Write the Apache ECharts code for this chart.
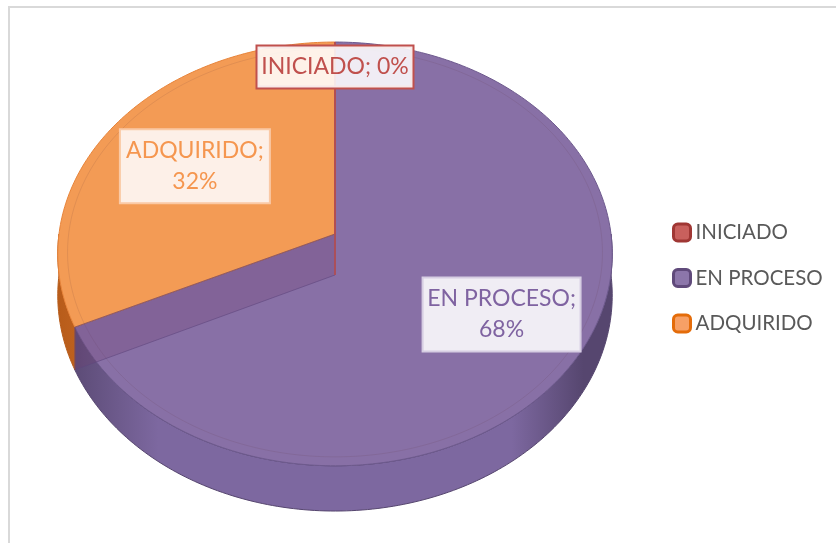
<!DOCTYPE html>
<html>
<head>
<meta charset="utf-8">
<title>Estado</title>
<script src="https://cdn.jsdelivr.net/npm/echarts@6/dist/echarts.min.js"></script>
<style>
    html, body { margin: 0; padding: 0; background: #fff; }
    #estado-pie { width: 836px; height: 543px; }
</style>
</head>
<body>
<div id="estado-pie"></div>
<script>
// data of the chart
var categories = ['INICIADO', 'EN PROCESO', 'ADQUIRIDO'];
var values = [0, 68, 32];

// colours (excel 2007 palette)
var topColors = ['#C0504D', '#8870A6', '#F39B55'];
var edgeColors = ['#B8403D', '#6E5A8E', '#E8843A'];
var sideDark = ['#7E2C2A', '#56466F', '#B85C1A'];
var sideLight = ['#A8433F', '#7D68A0', '#D9782F'];
var labelColors = ['#C0504D', '#7F63A1', '#F5964F'];
var labelBg = ['rgba(255,255,255,0.87)', '#F0EDF4', '#FDF0E8'];
var labelBorder = ['#C0504D', '#D6CDE2', '#FAC9A5'];
var legendFill = ['#C9605D', '#8C76AA', '#F7A066'];
var legendBorder = ['#A03734', '#604A7B', '#E46C0A'];

// label layout: distance from the apex (fraction of radius), box width, wrap
var labelDist = [0.86, 0.69, 0.62];
var labelWidth = [159, 160, 152];
var labelWrap = [false, true, true];

// pie geometry (fake 3d with a little perspective)
var CX = 335, CY = 234, RX = 276, RY = 210, P = 0.094, DEPTH = 41;

var total = values.reduce(function (a, b) { return a + b; }, 0);
var starts = [];
var acc = 0;
values.forEach(function (v) {
    starts.push(acc / total * 360);
    acc += v;
});

function project(angle, r, h) {
    var t = angle * Math.PI / 180;
    var u = Math.sin(t) * r;
    var v = -Math.cos(t) * r;
    var s = 1 / (1 - P * v);
    return [CX + RX * u * s, CY + (RY * v + DEPTH * h) * s];
}

function rim(a0, a1, r, h) {
    var pts = [];
    var n = Math.max(2, Math.ceil(Math.abs(a1 - a0)));
    for (var k = 0; k <= n; k++) {
        pts.push(project(a0 + (a1 - a0) * k / n, r, h));
    }
    return pts;
}

function sliceAngles(idx, api) {
    var a0 = starts[idx];
    var a1 = a0 + api.value(0) / total * 360;
    return [a0, a1];
}

var chart = echarts.init(document.getElementById('estado-pie'));

var option = {
    animation: false,
    backgroundColor: '#fff',
    graphic: [{
        type: 'rect',
        shape: { x: 9, y: 7, width: 900, height: 600 },
        style: { fill: 'none', stroke: '#D9D9D9', lineWidth: 2 },
        silent: true
    }],
    legend: {
        orient: 'vertical',
        left: 672,
        top: 222,
        padding: 0,
        itemWidth: 17,
        itemHeight: 17,
        itemGap: 24.5,
        icon: 'roundRect',
        selectedMode: false,
        textStyle: { fontFamily: 'Lato', fontSize: 20.5, color: '#595959', lineHeight: 18 },
        data: categories.map(function (c, i) {
            return {
                name: c,
                itemStyle: { color: legendFill[i], borderColor: legendBorder[i], borderWidth: 3 }
            };
        })
    },
    series: [
        // hidden pie only to feed the legend
        {
            type: 'pie',
            radius: [0, 0],
            center: [CX, CY],
            silent: true,
            label: { show: false },
            labelLine: { show: false },
            data: categories.map(function (c, i) {
                return { name: c, value: values[i], itemStyle: { color: topColors[i] } };
            })
        },
        // outer side walls (front half only)
        {
            type: 'custom',
            coordinateSystem: 'none',
            silent: true,
            z: 1,
            data: values,
            renderItem: function (params, api) {
                var a = sliceAngles(params.dataIndex, api);
                var from = Math.max(a[0], 90), to = Math.min(a[1], 270);
                if (to <= from) return null;
                var i = params.dataIndex;
                var pts = rim(from, to, 1, 0).concat(rim(to, from, 1, 1));
                return {
                    type: 'polygon',
                    shape: { points: pts },
                    style: {
                        fill: {
                            type: 'linear', x: CX - RX, y: 0, x2: CX + RX, y2: 0, global: true,
                            colorStops: [
                                { offset: 0, color: sideDark[i] },
                                { offset: 0.18, color: sideLight[i] },
                                { offset: 0.5, color: sideLight[i] },
                                { offset: 0.82, color: sideLight[i] },
                                { offset: 0.95, color: sideDark[i] },
                                { offset: 1, color: sideDark[i] }
                            ]
                        },
                        stroke: sideDark[i],
                        lineWidth: 1
                    }
                };
            }
        },
        // top faces
        {
            type: 'custom',
            coordinateSystem: 'none',
            silent: true,
            z: 2,
            data: values,
            renderItem: function (params, api) {
                var i = params.dataIndex;
                var a = sliceAngles(i, api);
                var apex = project(0, 0, 0);
                var pts = [apex].concat(rim(a[0], a[1], 1, 0));
                var children = [{
                    type: 'polygon',
                    z2: api.value(0) === 0 ? 10 : 0,
                    shape: { points: pts },
                    style: { fill: topColors[i], stroke: edgeColors[i], lineWidth: api.value(0) === 0 ? 1.5 : 1 }
                }];
                if (a[1] > a[0]) {
                    // soft bevel ring near the rim
                    children.push({
                        type: 'polyline',
                        shape: { points: rim(a[0], a[1], 0.965, 0) },
                        style: { fill: null, stroke: 'rgba(90,50,60,0.12)', lineWidth: 1 }
                    });
                }
                return { type: 'group', children: children };
            }
        },
        // radial walls seen through the top (transparent look)
        {
            type: 'custom',
            coordinateSystem: 'none',
            silent: true,
            z: 3,
            data: values,
            renderItem: function (params, api) {
                var i = params.dataIndex;
                var a0 = sliceAngles(i, api)[0];
                var pts = [project(0, 0, 0), project(a0, 1, 0), project(a0, 1, 1), project(0, 0, 1)];
                return {
                    type: 'polygon',
                    z2: api.value(0) === 0 ? 10 : 0,
                    shape: { points: pts },
                    style: {
                        fill: 'rgba(110,60,110,0.25)',
                        stroke: api.value(0) === 0 ? '#C0504D' : 'rgba(95,70,125,0.6)',
                        lineWidth: 1
                    }
                };
            }
        },
        // data labels
        {
            type: 'custom',
            coordinateSystem: 'none',
            silent: true,
            z: 4,
            data: values,
            renderItem: function (params, api) {
                var i = params.dataIndex;
                var a = sliceAngles(i, api);
                var pos = project((a[0] + a[1]) / 2, labelDist[i], 0);
                var pct = Math.round(api.value(0) / total * 100) + '%';
                var txt = categories[i] + ';' + (labelWrap[i] ? '\n' : ' ') + pct;
                return {
                    type: 'text',
                    x: pos[0],
                    y: pos[1],
                    style: {
                        text: txt,
                        fill: labelColors[i],
                        font: '23px Lato',
                        align: 'center',
                        verticalAlign: 'middle',
                        lineHeight: 31,
                        width: labelWidth[i] - 4,
                        backgroundColor: labelBg[i],
                        borderColor: labelBorder[i],
                        borderWidth: 2,
                        padding: [5, 0],
                        boxShadowBlur: 6,
                        boxShadowColor: 'rgba(0,0,0,0.25)',
                        boxShadowOffsetX: 2,
                        boxShadowOffsetY: 2
                    }
                };
            }
        }
    ]
};

chart.setOption(option);
</script>
</body>
</html>
